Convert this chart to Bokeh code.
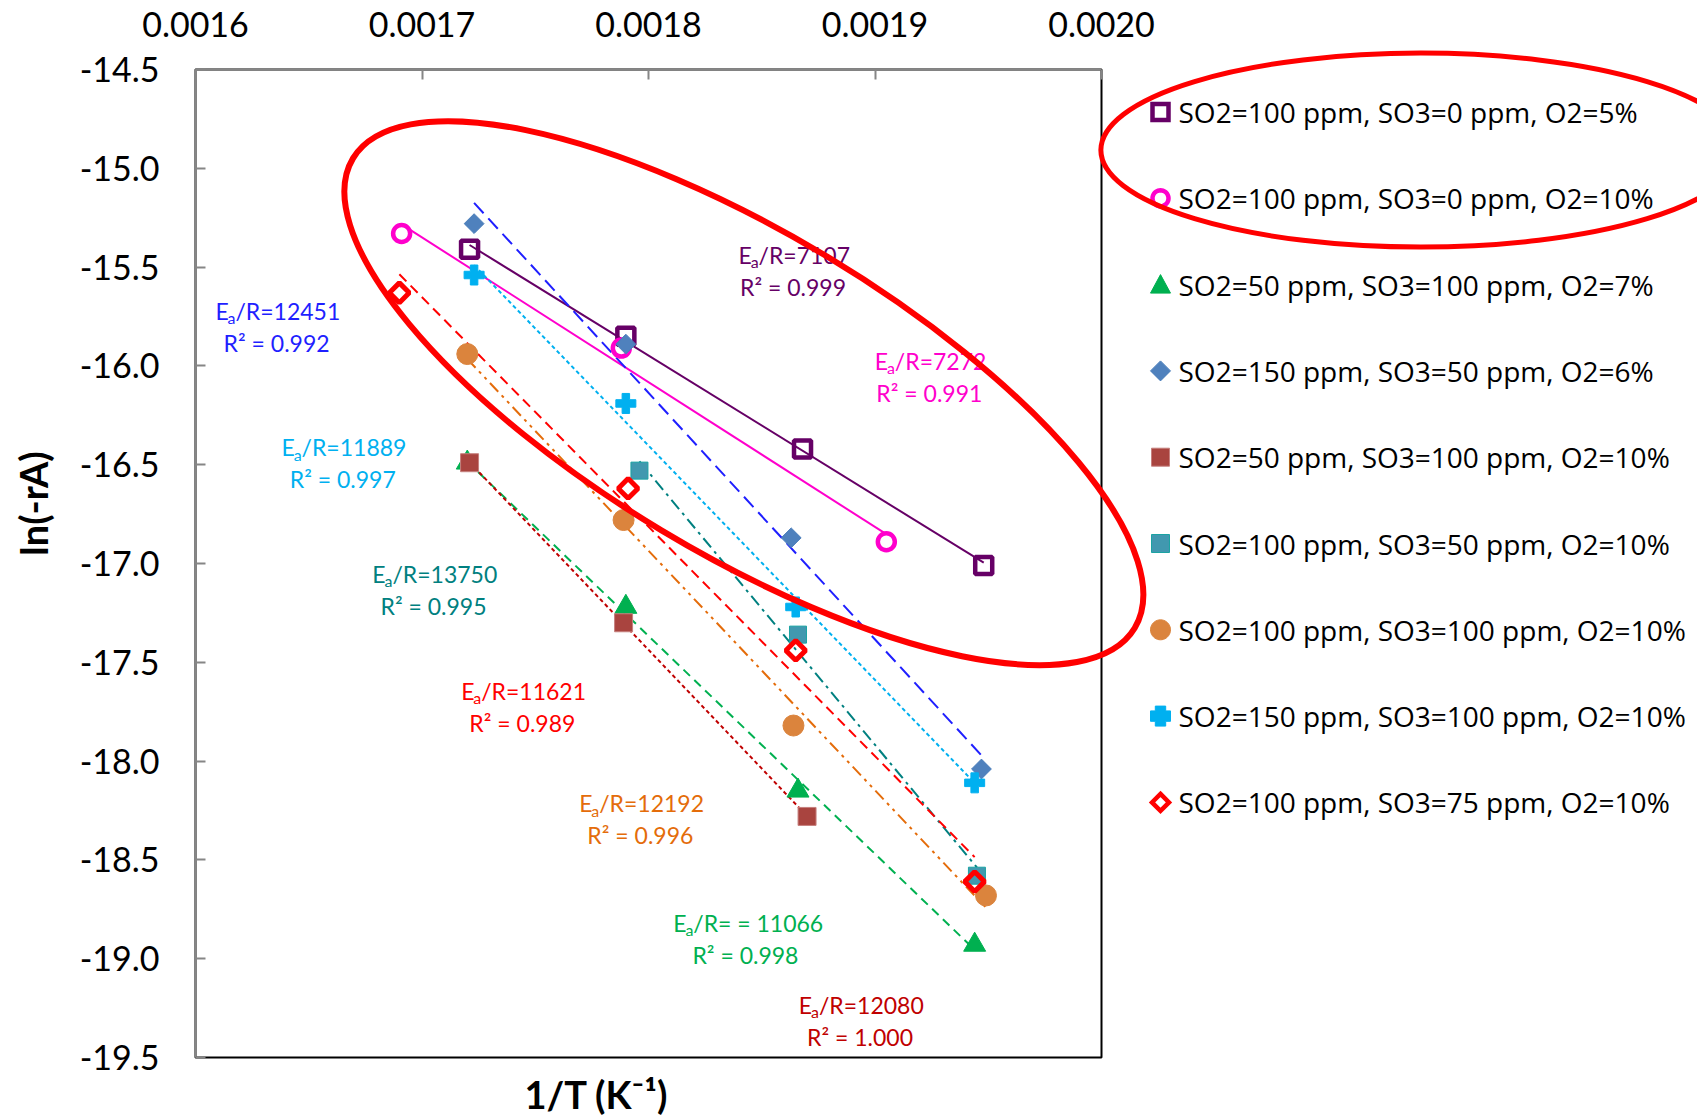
import numpy as np
from math import pi
from bokeh.plotting import figure
from bokeh.models import FixedTicker, PrintfTickFormatter
from bokeh.core.properties import value
from bokeh.embed import file_html
from bokeh.resources import INLINE

# ---------------- data ----------------
series_labels = [
    "SO2=100 ppm, SO3=0 ppm, O2=5%",
    "SO2=100 ppm, SO3=0 ppm, O2=10%",
    "SO2=50 ppm, SO3=100 ppm, O2=7%",
    "SO2=150 ppm, SO3=50 ppm, O2=6%",
    "SO2=50 ppm, SO3=100 ppm, O2=10%",
    "SO2=100 ppm, SO3=50 ppm, O2=10%",
    "SO2=100 ppm, SO3=100 ppm, O2=10%",
    "SO2=150 ppm, SO3=100 ppm, O2=10%",
    "SO2=100 ppm, SO3=75 ppm, O2=10%",
]
x_s1 = [0.001721, 0.001790, 0.001868, 0.001948]
y_s1 = [-15.41, -15.85, -16.42, -17.01]
x_s2 = [0.001691, 0.001788, 0.001905]
y_s2 = [-15.33, -15.91, -16.89]
x_s3 = [0.001720, 0.001790, 0.001866, 0.001944]
y_s3 = [-16.49, -17.22, -18.15, -18.93]
x_s4 = [0.001723, 0.001790, 0.001863, 0.001947]
y_s4 = [-15.28, -15.89, -16.87, -18.04]
x_s5 = [0.001721, 0.001789, 0.001870]
y_s5 = [-16.49, -17.30, -18.28]
x_s6 = [0.001796, 0.001866, 0.001945]
y_s6 = [-16.53, -17.36, -18.58]
x_s7 = [0.001720, 0.001789, 0.001864, 0.001949]
y_s7 = [-15.94, -16.78, -17.82, -18.68]
x_s8 = [0.001723, 0.001790, 0.001865, 0.001944]
y_s8 = [-15.54, -16.19, -17.22, -18.11]
x_s9 = [0.001690, 0.001791, 0.001865, 0.001944]
y_s9 = [-15.63, -16.62, -17.44, -18.61]

ea_texts = ["/R=7107", "/R=7272", "/R= = 11066", "/R=12451", "/R=12080",
            "/R=13750", "/R=12192", "/R=11889", "/R=11621"]
r2_texts = ["R\u00b2 = 0.999", "R\u00b2 = 0.991", "R\u00b2 = 0.998", "R\u00b2 = 0.992",
            "R\u00b2 = 1.000", "R\u00b2 = 0.995", "R\u00b2 = 0.996", "R\u00b2 = 0.997",
            "R\u00b2 = 0.989"]

x_ticks = [0.0016, 0.0017, 0.0018, 0.0019, 0.0020]
y_ticks = [-19.5, -19.0, -18.5, -18.0, -17.5, -17.0, -16.5, -16.0, -15.5, -15.0, -14.5]
x_title = "1/T (K\u207b\u00b9)"
y_title = "ln(-rA)"

# ---------------- styles / layout ----------------
xs = [x_s1, x_s2, x_s3, x_s4, x_s5, x_s6, x_s7, x_s8, x_s9]
ys = [y_s1, y_s2, y_s3, y_s4, y_s5, y_s6, y_s7, y_s8, y_s9]
marker_styles = [
    dict(marker="square", size=17, line_color="#660066", line_width=4.5, fill_alpha=0),
    dict(marker="circle", size=17, line_color="#FF00CC", line_width=4.5, fill_alpha=0),
    dict(marker="triangle", size=22, line_color="#00B050", fill_color="#00B050"),
    dict(marker="square", size=14, angle=pi / 4, line_color="#4A7EBB", fill_color="#4F81BD"),
    dict(marker="square", size=18, line_color="#C6807E", fill_color="#A9443F"),
    dict(marker="square", size=17, line_color="#1BA3A3", fill_color="#4198AF"),
    dict(marker="circle", size=21, line_color="#DB843D", fill_color="#DB843D"),
    dict(marker="plus", size=20, line_color="#00B0F0", fill_color="#00B0F0"),
    dict(marker="square", size=14, angle=pi / 4, line_color="#FF0000", line_width=5, fill_alpha=0),
]
# legend swatch shapes: (kind, size in px)
legend_shapes = [("square", 16), ("circle", 16), ("triangle", 20), ("diamond", 20), ("square", 18),
                 ("square", 18), ("circle", 20), ("plus", 20), ("diamond", 17)]
line_styles = [
    dict(line_color="#660066", line_width=2, line_dash="solid"),
    dict(line_color="#FF00CC", line_width=2, line_dash="solid"),
    dict(line_color="#00B050", line_width=2, line_dash="9 6"),
    dict(line_color="#1F1FFF", line_width=2, line_dash="14 7"),
    dict(line_color="#C00000", line_width=2, line_dash="4 3"),
    dict(line_color="#008080", line_width=2, line_dash="12 5 3 5"),
    dict(line_color="#E46C0A", line_width=2, line_dash="12 5 3 5 3 5"),
    dict(line_color="#00B0F0", line_width=2, line_dash="4 3"),
    dict(line_color="#FF0000", line_width=2, line_dash="10 6"),
]
note_colors = ["#660066", "#FF00CC", "#00B050", "#1F1FFF", "#C00000",
               "#008080", "#E46C0A", "#00B0F0", "#FF0000"]
note_pos = [(0.0018638, -15.519), (0.0019240, -16.055), (0.0018428, -18.898),
            (0.0016358, -15.803), (0.0018934, -19.314), (0.0017051, -17.134),
            (0.0017964, -18.295), (0.0016650, -16.493), (0.0017443, -17.726)]

FONT = "Lato"
LEG_FONT = "Open Sans"

W, H = 1697, 1115
FL, FR, FT, FB = 195, 1101, 69, 1057          # frame edges in canvas pixels
X0, X1 = x_ticks[0], x_ticks[-1]
Y0, Y1 = y_ticks[0], y_ticks[-1]


def px2x(px):
    return X0 + (np.asarray(px, dtype=float) - FL) * (X1 - X0) / (FR - FL)


def py2y(py):
    return Y1 - (np.asarray(py, dtype=float) - FT) * (Y1 - Y0) / (FB - FT)


p = figure(width=W, height=H, x_range=(X0, X1), y_range=(Y0, Y1),
           x_axis_location="above", output_backend="svg", toolbar_location=None,
           min_border_left=FL, min_border_right=W - FR, min_border_top=FT, min_border_bottom=H - FB)
p.xgrid.visible = False
p.ygrid.visible = False
p.outline_line_color = "black"
p.outline_line_width = 2
p.background_fill_color = "white"
p.border_fill_color = "white"

for ax, ticks, fmt, stand in ((p.xaxis[0], x_ticks, "%.4f", 33), (p.yaxis[0], y_ticks, "%.1f", 36)):
    ax.ticker = FixedTicker(ticks=ticks)
    ax.formatter = PrintfTickFormatter(format=fmt)
    ax.major_tick_in = 10
    ax.major_tick_out = 0
    ax.minor_tick_line_color = None
    ax.axis_line_color = "#868686"
    ax.axis_line_width = 2
    ax.major_tick_line_color = "#868686"
    ax.major_tick_line_width = 2
    ax.major_label_text_font = FONT
    ax.major_label_text_font_size = "34px"
    ax.major_label_text_color = "black"
    ax.major_label_standoff = stand

# trend lines (least squares fit over each series' range)
for x, y, ls in zip(xs, ys, line_styles):
    k, b = np.polyfit(x, y, 1)
    xe = np.array([min(x), max(x)])
    p.line(xe, k * xe + b, **ls)

for x, y, ms in zip(xs, ys, marker_styles):
    p.scatter(x, y, **ms)

# annotations "E_a/R=..." and "R² = ..."
def tw(s, size):
    w = {"E": 0.53, "a": 0.49, "/": 0.36, "R": 0.61, "=": 0.58, " ": 0.19, ".": 0.23}
    return sum(w.get(c, 0.58) for c in s) * size

F, FS = 23, 16
for (nx, ny), ea, r2, col in zip(note_pos, ea_texts, r2_texts, note_colors):
    wE, wa, wr = tw("E", F), tw("a", FS), tw(ea, F)
    x0 = -(wE + wa + wr) / 2
    common = dict(text_font=value(FONT), text_color=col, text_baseline="middle", text_align="left")
    p.text(x=[nx], y=[ny], text=["E"], x_offset=x0, y_offset=-16, text_font_size=f"{F}px", **common)
    p.text(x=[nx], y=[ny], text=["a"], x_offset=x0 + wE, y_offset=-9, text_font_size=f"{FS}px", **common)
    p.text(x=[nx], y=[ny], text=[ea], x_offset=x0 + wE + wa, y_offset=-16, text_font_size=f"{F}px", **common)
    p.text(x=[nx], y=[ny], text=[r2], y_offset=16, text_font_size=f"{F}px",
           text_font=value(FONT), text_color=col, text_baseline="middle", text_align="center")


# legend (drawn outside the frame at overlay level)
def swatch(kind, cx, cy, s):
    h = s / 2
    if kind == "square":
        pts = [(-h, -h), (h, -h), (h, h), (-h, h)]
    elif kind == "diamond":
        pts = [(0, -h), (h, 0), (0, h), (-h, 0)]
    elif kind == "triangle":
        pts = [(-h, 0.85 * h), (h, 0.85 * h), (0, -h)]
    elif kind == "plus":
        t = 0.26 * s
        pts = [(-t, -h), (t, -h), (t, -t), (h, -t), (h, t), (t, t), (t, h), (-t, h),
               (-t, t), (-h, t), (-h, -t), (-t, -t)]
    else:
        a = np.linspace(0, 2 * pi, 41)[:-1]
        pts = list(zip(h * np.cos(a), h * np.sin(a)))
    px = [cx + u for u, v in pts]
    py = [cy + v for u, v in pts]
    return px2x(px), py2y(py)


LEG_X, LEG_TX, LEG_Y0, LEG_DY = 1160, 1178, 111.5, 86.3
for i, (lbl, ms, (kind, s)) in enumerate(zip(series_labels, marker_styles, legend_shapes)):
    cy = LEG_Y0 + i * LEG_DY
    sx, sy = swatch(kind, LEG_X, cy, s)
    p.patch(sx, sy, fill_color=ms.get("fill_color", "white"), fill_alpha=ms.get("fill_alpha", 1.0),
            line_color=ms["line_color"], line_width=min(ms.get("line_width", 1), 4.5), line_join="miter",
            level="overlay")
    p.text(x=[px2x(LEG_TX)], y=[py2y(cy)], text=[lbl], level="overlay", text_font=value(LEG_FONT),
           text_font_size="28px", text_color="black", text_align="left", text_baseline="middle")

# red highlight ellipses
p.ellipse(x=[0.0018421], y=[-16.138], width=[912], height=[320], angle=-0.541,
          width_units="screen", height_units="screen", fill_alpha=0,
          line_color="#FF0000", line_width=6, level="overlay")
p.ellipse(x=[0.002141], y=[-14.908], width=[640], height=[194], angle=0,
          width_units="screen", height_units="screen", fill_alpha=0,
          line_color="#FF0000", line_width=5, level="overlay")

# axis titles
p.text(x=[px2x(596)], y=[py2y(1093)], text=[x_title], level="overlay", text_font=value(FONT),
       text_font_size="38px", text_font_style="bold", text_color="black",
       text_align="center", text_baseline="middle")
p.text(x=[px2x(32)], y=[py2y(503)], text=[y_title], angle=pi / 2, level="overlay",
       text_font=value(FONT), text_font_size="38px", text_font_style="bold", text_color="black",
       text_align="center", text_baseline="middle")

open("out.html", "w").write(file_html(p, INLINE))
